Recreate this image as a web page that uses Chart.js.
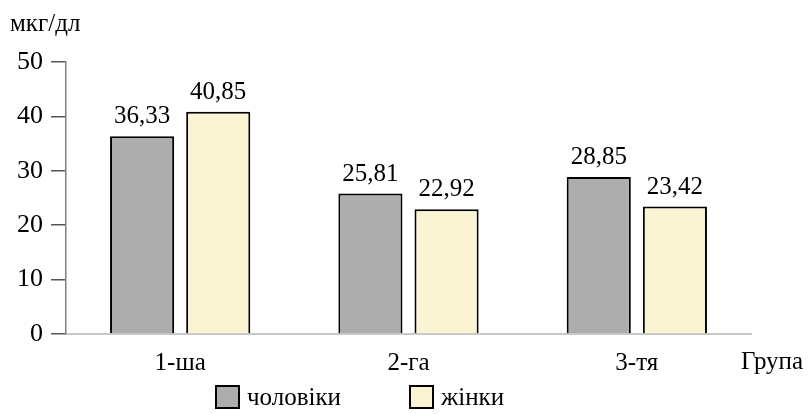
<!DOCTYPE html>
<html>
<head>
<meta charset="utf-8">
<script src="https://cdn.jsdelivr.net/npm/chart.js@4/dist/chart.umd.min.js"></script>
<style>
  html, body { margin: 0; padding: 0; background: #fff; }
  #wrap { position: relative; width: 811px; height: 414px; font-family: "Liberation Serif", serif; color: #000; }
  #unit { position: absolute; left: 10px; top: 9px; font-size: 25px; }
  #axisName { position: absolute; left: 741px; top: 347px; font-size: 25px; }
  #legend { position: absolute; left: 215px; top: 383px; display: flex; font-size: 25px; }
  #legend .item { display: flex; align-items: center; margin-right: 68px; }
  #legend .box { width: 21px; height: 20px; border: 2px solid #000; margin-right: 7px; }
</style>
</head>
<body>
<div id="wrap">
  <canvas id="chart" width="811" height="414"></canvas>
  <div id="unit">мкг/дл</div>
  <div id="axisName">Група</div>
  <div id="legend"></div>
</div>
<script>
const groups = ["1-ша", "2-га", "3-тя"];
const seriesNames = ["чоловіки", "жінки"];
const men = [36.33, 25.81, 28.85];
const women = [40.85, 22.92, 23.42];
const yTicks = [0, 10, 20, 30, 40, 50];

const fills = ["#adadad", "#faf4d3"];
const serif = "'Liberation Serif', serif";

const fmt = v => v.toFixed(2).replace(".", ",");

// value labels above bars
const valueLabels = {
    id: "valueLabels",
    afterDatasetsDraw(chart) {
        const ctx = chart.ctx;
        ctx.save();
        ctx.font = "25px " + serif;
        ctx.fillStyle = "#000";
        ctx.textAlign = "center";
        ctx.textBaseline = "alphabetic";
        chart.data.datasets.forEach((ds, i) => {
            chart.getDatasetMeta(i).data.forEach((bar, j) => {
                ctx.fillText(fmt(ds.data[j]), bar.x, bar.y - 13);
            });
        });
        ctx.restore();
    }
};

function draw() {
    const chart = new Chart(document.getElementById("chart"), {
        type: "bar",
        data: {
            labels: groups,
            datasets: [
                { label: seriesNames[0], data: men, backgroundColor: fills[0], borderColor: "#000", borderWidth: 2 },
                { label: seriesNames[1], data: women, backgroundColor: fills[1], borderColor: "#000", borderWidth: 2 }
            ]
        },
        options: {
            responsive: false,
            animation: false,
            layout: { padding: { top: 62, right: 60, left: 0, bottom: 0 } },
            categoryPercentage: 0.667,
            barPercentage: 0.842,
            plugins: { legend: { display: false }, tooltip: { enabled: false } },
            scales: {
                x: {
                    grid: { display: false, drawTicks: false },
                    border: { display: true, color: "#c8c8c8", width: 2 },
                    ticks: { color: "#000", font: { family: serif, size: 25 }, padding: 14 },
                    afterFit(s) { s.height = 80; }
                },
                y: {
                    min: 0, max: 50,
                    afterBuildTicks(s) { s.ticks = yTicks.map(v => ({ value: v })); },
                    grid: { drawOnChartArea: false, tickLength: 15, color: "#555", lineWidth: 1.5 },
                    border: { display: true, color: "#808080", width: 1.5 },
                    ticks: { color: "#000", font: { family: serif, size: 26 }, padding: 8 },
                    afterFit(s) { s.width = 66; }
                }
            }
        },
        plugins: [valueLabels]
    });

    const legend = document.getElementById("legend");
    chart.data.datasets.forEach(ds => {
        const item = document.createElement("div");
        item.className = "item";
        const box = document.createElement("div");
        box.className = "box";
        box.style.background = ds.backgroundColor;
        const txt = document.createElement("span");
        txt.innerText = ds.label;
        item.appendChild(box);
        item.appendChild(txt);
        legend.appendChild(item);
    });
}

document.fonts.load("25px 'Liberation Serif'").then(draw, draw);
</script>
</body>
</html>
